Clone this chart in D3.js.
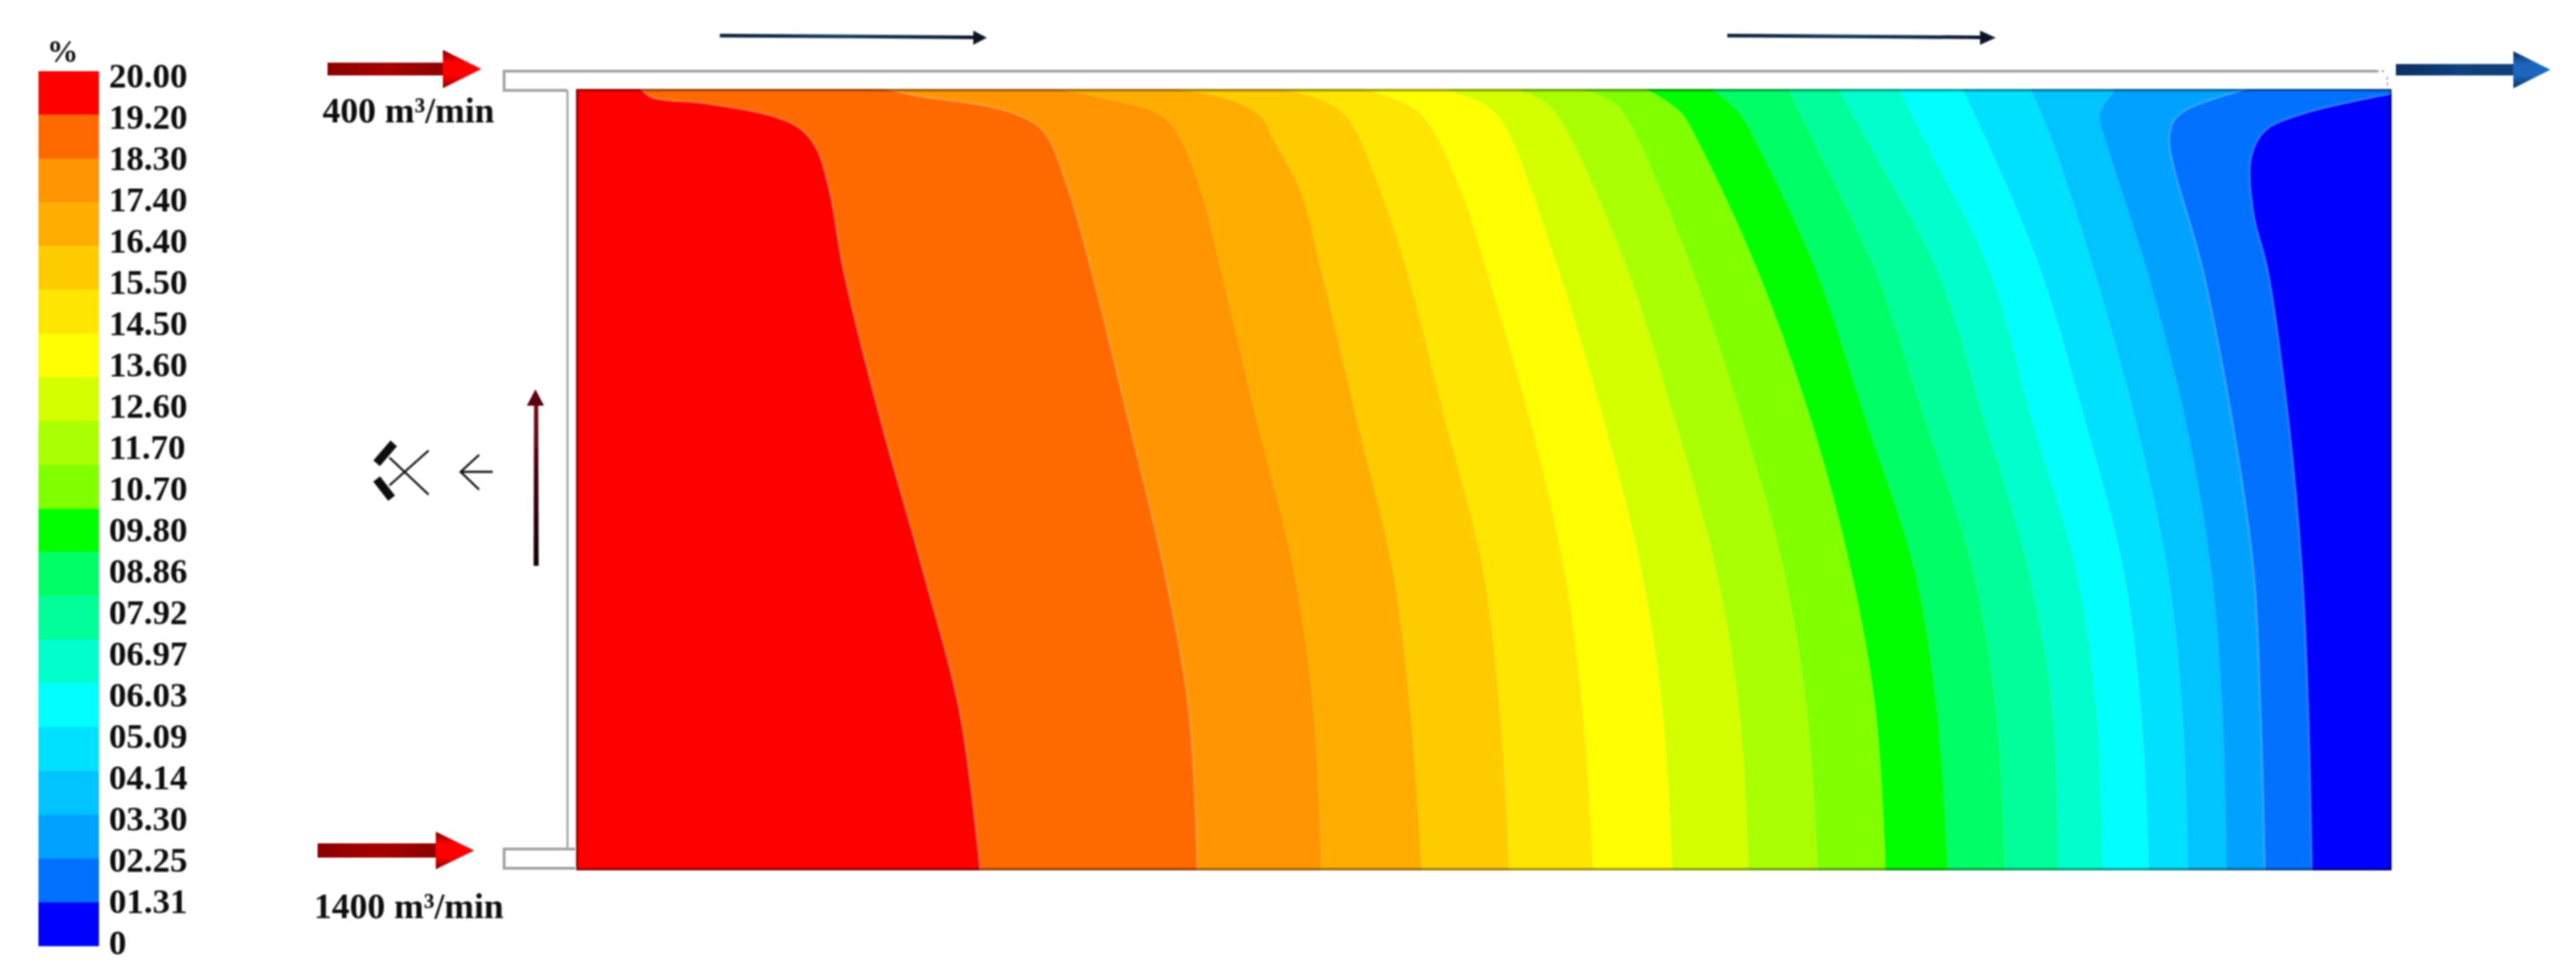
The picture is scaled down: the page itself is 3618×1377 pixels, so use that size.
<!DOCTYPE html>
<html>
<head>
<meta charset="utf-8">
<script src="https://cdn.jsdelivr.net/npm/d3@7/dist/d3.min.js"></script>
<style>
html, body { margin: 0; padding: 0; background: #fff; }
svg { display: block; }
text { font-family: "Liberation Serif", serif; font-weight: bold; fill: #111; }
.tick text { font-family: "Liberation Serif", serif; }
</style>
</head>
<body>
<svg id="chart" width="3618" height="1377"></svg>
<script>
// legend
var levelLabels = ['20.00', '19.20', '18.30', '17.40', '16.40', '15.50', '14.50', '13.60', '12.60', '11.70', '10.70',
    '09.80', '08.86', '07.92', '06.97', '06.03', '05.09', '04.14', '03.30', '02.25', '01.31', '0'];
var bandColors = ['#ff0000', '#ff6a00', '#ff9500', '#ffae00', '#ffcc00', '#ffe600', '#ffff00', '#d4ff00', '#aaff00', '#80ff00',
    '#00ff00', '#00ff66', '#00ff99', '#00ffcc', '#00ffff', '#00e0ff', '#00c3ff', '#00a2ff', '#0072ff', '#0000ff'];

// isolines of the field, [along, depth] in panel units, left wall and top wall are 0
var iso01 = [[91,0],[107,12],[180,20],[276,38],[314,55],[337,82],[356,142],[376,255],[428,465],[487,675],[539,875],[568,1098]];
var iso02 = [[436,0],[480,10],[582,25],[633,42],[659,62],[692,142],[724,255],[776,465],[826,675],[861,875],[873,1098]];
var iso03 = [[675,0],[735,12],[812,32],[840,55],[873,128],[906,255],[956,465],[1008,675],[1036,875],[1047,1098]];
var iso04 = [[844,0],[927,18],[965,42],[975,62],[1017,142],[1047,255],[1097,465],[1147,675],[1172,875],[1188,1098]];
var iso05 = [[995,0],[1053,18],[1085,42],[1138,165],[1167,255],[1221,465],[1274,675],[1298,875],[1311,1098]];
var iso06 = [[1107,0],[1168,22],[1193,42],[1243,142],[1279,255],[1340,465],[1388,675],[1414,875],[1429,1098]];
var iso07 = [[1216,0],[1276,22],[1302,48],[1380,255],[1443,465],[1496,675],[1526,875],[1540,1098]];
var iso08 = [[1321,0],[1365,22],[1391,58],[1477,255],[1543,465],[1601,675],[1634,875],[1647,1098]];
var iso09 = [[1413,0],[1461,22],[1487,62],[1568,255],[1638,465],[1696,675],[1729,875],[1744,1098]];
var iso10 = [[1502,0],[1550,32],[1576,75],[1659,255],[1734,465],[1790,675],[1825,875],[1839,1098]];
var iso11 = [[1595,0],[1633,32],[1668,95],[1742,255],[1812,465],[1880,675],[1912,875],[1927,1098]];
var iso12 = [[1703,0],[1739,75],[1825,255],[1895,465],[1962,675],[1995,875],[2007,1098]];
var iso13 = [[1774,0],[1815,75],[1912,255],[1978,465],[2040,675],[2074,875],[2082,1098]];
var iso14 = [[1859,0],[1896,75],[1986,255],[2045,465],[2107,675],[2136,875],[2144,1098]];
var iso15 = [[1947,0],[1997,108],[2057,255],[2119,465],[2173,675],[2198,875],[2209,1098]];
var iso16 = [[2043,0],[2074,75],[2132,255],[2190,465],[2235,675],[2256,875],[2264,1098]];
var iso17 = [[2163,0],[2140,35],[2149,75],[2206,255],[2260,465],[2296,675],[2312,875],[2318,1098]];
var iso18 = [[2347,0],[2264,28],[2244,45],[2238,75],[2285,255],[2326,465],[2356,675],[2366,875],[2372,1098]];
var iso19 = [[2548,7],[2425,35],[2373,58],[2353,95],[2356,175],[2376,255],[2405,465],[2424,675],[2433,875],[2438,1098]];
var isolines = [iso01, iso02, iso03, iso04, iso05, iso06, iso07, iso08, iso09, iso10,
    iso11, iso12, iso13, iso14, iso15, iso16, iso17, iso18, iso19];

var inletText = ['400 m³/min', '1400 m³/min'];

var svg = d3.select('#chart');
var defs = svg.append('defs');

defs.append('filter').attr('id', 'soft')
    .attr('filterUnits', 'userSpaceOnUse')
    .attr('x', 0).attr('y', 0).attr('width', 3618).attr('height', 1377)
    .append('feGaussianBlur').attr('stdDeviation', 0.9);

function gradient(id, stops, x2, y2) {
    var g = defs.append('linearGradient').attr('id', id)
        .attr('x1', 0).attr('y1', 0).attr('x2', x2).attr('y2', y2);
    stops.forEach(function(s, i) {
        g.append('stop').attr('offset', i / (stops.length - 1)).attr('stop-color', s);
    });
}
gradient('redShaft', ['#8a0606', '#a80000', '#8c0000'], 1, 0);
gradient('redHead', ['#7c0000', '#ff0000', '#ff0000', '#8a0000'], 0, 1);
gradient('blueShaft', ['#0c2f60', '#0d3f7c', '#123f78'], 1, 0);
gradient('blueHead', ['#0a2a58', '#1b66bb', '#1b66bb', '#0a2a58'], 0, 1);
gradient('upShaft', ['#7a0a18', '#3c0410', '#0e0004'], 0, 1);
gradient('thinShaft', ['#0a1c33', '#123a60', '#0a1626'], 1, 0);

var root = svg.append('g').attr('filter', 'url(#soft)');

// legend swatches
var legendY = d3.scaleBand().domain(bandColors).range([100, 1329]);
root.append('g').selectAll('rect')
    .data(bandColors)
    .join('rect')
    .attr('x', 54)
    .attr('width', 85)
    .attr('y', function(d) { return legendY(d); })
    .attr('height', legendY.bandwidth() + 0.5)
    .attr('fill', function(d) { return d; });

var labelY = d3.scalePoint().domain(levelLabels).range([106, 1324]);
var legendAxis = root.append('g')
    .attr('transform', 'translate(153,0)')
    .call(d3.axisRight(labelY).tickSize(0).tickPadding(0));
legendAxis.select('.domain').remove();
legendAxis.selectAll('text')
    .attr('font-size', 49)
    .attr('dy', '0.33em');

root.append('text').attr('x', 88).attr('y', 87).attr('text-anchor', 'middle').attr('font-size', 44).text('%');

// contour panel
var x = d3.scaleLinear().domain([0, 2550]).range([809, 3359]);
var y = d3.scaleLinear().domain([0, 1098]).range([125, 1223]);

defs.append('clipPath').attr('id', 'panel')
    .append('rect')
    .attr('x', x(0)).attr('y', y(0))
    .attr('width', x(2550) - x(0)).attr('height', y(1098) - y(0));

var panel = root.append('g').attr('clip-path', 'url(#panel)');

panel.append('rect')
    .attr('x', x(0)).attr('y', y(0))
    .attr('width', x(2550) - x(0)).attr('height', y(1098) - y(0))
    .attr('fill', bandColors[0]);

var smooth = d3.curveCatmullRom.alpha(0.5);

var bandArea = d3.area()
    .curve(smooth)
    .y(function(d) { return y(d[1]); })
    .x0(function(d) { return x(d[0]); })
    .x1(x(2550));

var isoLine = d3.line()
    .curve(smooth)
    .x(function(d) { return x(d[0]); })
    .y(function(d) { return y(d[1]); });

panel.append('g').selectAll('path')
    .data(isolines)
    .join('path')
    .attr('d', bandArea)
    .attr('fill', function(d, i) { return bandColors[i + 1]; });

panel.append('g').selectAll('path')
    .data(isolines)
    .join('path')
    .attr('d', isoLine)
    .attr('fill', 'none')
    .attr('stroke', '#fff')
    .attr('stroke-opacity', function(d, i) { return i < 2 || i > 16 ? 0.18 : 0.05; })
    .attr('stroke-width', 3);

// the picture darkens along the panel border
panel.append('rect')
    .attr('x', x(0)).attr('y', y(0))
    .attr('width', x(2550) - x(0)).attr('height', y(1098) - y(0))
    .attr('fill', 'none')
    .attr('stroke', '#000')
    .attr('stroke-opacity', 0.38)
    .attr('stroke-width', 7);

// ducts
var duct = root.append('g').attr('fill', 'none').attr('stroke', '#a3a3a6').attr('stroke-width', 4);
duct.append('path').attr('d', d3.line()([[797, 127], [708, 127], [708, 100], [3338, 100]]));
duct.append('path').attr('d', d3.line()([[797, 127], [797, 1193]])).attr('stroke-width', 3);
duct.append('path').attr('d', d3.line()([[808, 1193], [708, 1193], [708, 1220], [808, 1220]]));
duct.append('path').attr('d', d3.line()([[3338, 100], [3350, 100]])).attr('stroke-dasharray', '3 4').attr('stroke-width', 3);
duct.append('path').attr('d', d3.line()([[3353, 108], [3353, 125]])).attr('stroke-dasharray', '4 4').attr('stroke-width', 2);

// flow arrows
function blockArrow(x0, x1, xHead, cy, shaftH, headH, shaftFill, headFill) {
    var g = root.append('g');
    g.append('rect').attr('x', x0).attr('y', cy - shaftH / 2)
        .attr('width', xHead - x0 + 2).attr('height', shaftH).attr('fill', 'url(#' + shaftFill + ')');
    g.append('path')
        .attr('d', d3.line()([[xHead, cy - headH / 2], [x1, cy], [xHead, cy + headH / 2]]) + 'Z')
        .attr('fill', 'url(#' + headFill + ')');
}
blockArrow(460, 676, 622, 97, 18, 54, 'redShaft', 'redHead');
blockArrow(446, 666, 612, 1195, 20, 53, 'redShaft', 'redHead');
blockArrow(3365, 3582, 3530, 98, 16, 52, 'blueShaft', 'blueHead');

function thinArrow(x0, x1, xHead) {
    var g = root.append('g');
    g.append('path')
        .attr('d', d3.line()([[x0, 47.5], [xHead, 50], [xHead, 55], [x0, 52.5]]) + 'Z')
        .attr('fill', 'url(#thinShaft)');
    g.append('path')
        .attr('d', d3.line()([[xHead, 43], [x1, 53], [xHead, 63]]) + 'Z')
        .attr('fill', '#0a1626');
}
thinArrow(1011, 1386, 1367);
thinArrow(2426, 2803, 2781);

// flow inside the entry duct
var up = root.append('g');
up.append('path')
    .attr('d', d3.line()([[750, 568], [756, 568], [756.5, 795], [749.5, 795]]) + 'Z')
    .attr('fill', 'url(#upShaft)');
up.append('path')
    .attr('d', d3.line()([[752, 547], [764, 570], [740, 570]]) + 'Z')
    .attr('fill', '#5a0410');

// fan symbol
var fan = root.append('g').attr('stroke', '#111').attr('fill', 'none');
fan.append('path').attr('d', d3.line()([[547, 643], [602, 695]])).attr('stroke-width', 3);
fan.append('path').attr('d', d3.line()([[547, 682], [602, 633]])).attr('stroke-width', 3);
fan.append('path').attr('d', d3.line()([[529, 651], [553, 623]])).attr('stroke-width', 12);
fan.append('path').attr('d', d3.line()([[529, 673], [550, 700]])).attr('stroke-width', 12);
fan.append('path').attr('d', d3.line()([[647, 663], [692, 663]])).attr('stroke-width', 3);
fan.append('path').attr('d', d3.line()([[673, 639], [647, 663], [673, 688]])).attr('stroke-width', 3);

// inlet labels
root.append('text').attr('x', 453).attr('y', 172).attr('font-size', 50).text(inletText[0]);
root.append('text').attr('x', 441).attr('y', 1290).attr('font-size', 50).text(inletText[1]);
</script>
</body>
</html>
